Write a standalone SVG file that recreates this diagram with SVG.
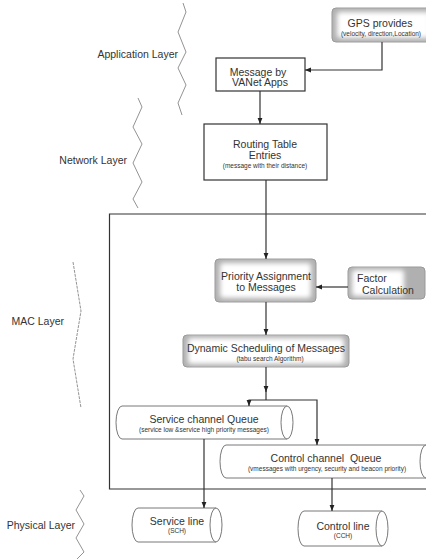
<svg xmlns="http://www.w3.org/2000/svg" width="426" height="559" viewBox="0 0 426 559">
<style>
text{font-family:"Liberation Sans",Arial,sans-serif;fill:#333}
.t{font-size:10.5px;text-anchor:middle}
.s{font-size:6.5px;text-anchor:middle}
.lay{font-size:10.5px;text-anchor:end}
.box{fill:#fff;stroke:#333;stroke-width:1.2}
.bev{fill:#b0b0b0;stroke:#999;stroke-width:1}
.in{fill:#fff;filter:url(#blur)}
.cyl{fill:#fff;stroke:#555;stroke-width:0.8}
.zz{fill:none;stroke:#777;stroke-width:0.8}
.ln{fill:none;stroke:#333;stroke-width:1.2}
</style>
<defs>
<filter id="blur" x="-20%" y="-40%" width="140%" height="180%"><feGaussianBlur stdDeviation="2.5"/></filter>
<marker id="ah" viewBox="0 0 10 10" refX="10" refY="5" markerWidth="6" markerHeight="6" orient="auto" markerUnits="userSpaceOnUse"><path d="M0,1 L10,5 L0,9 Z" fill="#222"/></marker>
</defs>

<g id="layers">
<polyline class="zz" points="183,3 186,12 178,32 186,52 178,68 186,85 178,103 182,115"/>
<text class="lay" x="178" y="58">Application Layer</text>
<polyline class="zz" points="138,98 142,107 133,127 142,144 133,163 142,182 133,199 138,208"/>
<text class="lay" x="127" y="164">Network Layer</text>
<polyline class="zz" points="73,262 81,311 73,359 81,408" stroke-dasharray="3,1"/>
<text class="lay" x="64" y="325">MAC Layer</text>
<polyline class="zz" points="80,490 84,496 76,510 84,524 76,538 84,552 77,559"/>
<text class="lay" x="75" y="529">Physical Layer</text>
</g>

<g id="mac-frame">
<path class="ln" d="M430,214 H109.5 V489 H430"/>
</g>

<g id="gps">
<rect class="bev" x="332" y="8" width="98" height="34" rx="4"/>
<rect class="in" x="337" y="12" width="93" height="26" rx="3"/>
<text class="t" x="380" y="27">GPS provides</text>
<text class="s" x="381" y="35.5">(velocity, direction,Location)</text>
</g>

<g id="message">
<rect class="box" x="216" y="58" width="89" height="33"/>
<text class="t" x="258" y="75.5">Message by</text>
<text class="t" x="260" y="86">VANet Apps</text>
</g>

<g id="routing">
<rect class="box" x="204" y="124" width="123" height="56"/>
<text class="t" x="265" y="148">Routing Table</text>
<text class="t" x="265" y="159">Entries</text>
<text class="s" x="265" y="167.5">(message with their distance)</text>
</g>

<g id="priority">
<rect class="bev" x="215" y="259" width="101" height="43" rx="4"/>
<rect class="in" x="220" y="263" width="91" height="35" rx="3"/>
<text class="t" x="266" y="280">Priority Assignment</text>
<text class="t" x="266" y="291">to Messages</text>
</g>

<g id="factor">
<rect class="bev" x="348" y="267" width="77" height="32" rx="4"/>
<rect class="in" x="352" y="270" width="52" height="26" rx="3"/>
<text x="357" y="281.5" font-size="10.5">Factor</text>
<text x="362" y="293.5" font-size="10.5">Calculation</text>
</g>

<g id="dynamic">
<rect class="bev" x="183" y="335" width="166" height="32" rx="4"/>
<rect class="in" x="188" y="338" width="156" height="26" rx="3"/>
<text class="t" x="266" y="352">Dynamic Scheduling of Messages</text>
<text class="s" x="270" y="360.5">(tabu search Algorithm)</text>
</g>

<g id="service-queue">
<path class="cyl" d="M122,406 H287 A6,16.5 0 0 1 287,439 H122 A6,16.5 0 0 1 122,406 Z"/>
<path class="cyl" d="M287,406 A6,16.5 0 0 0 287,439"/>
<text class="t" x="204" y="423">Service channel Queue</text>
<text class="s" x="204" y="432">(service low &amp;service high priority messages)</text>
</g>

<g id="control-queue">
<path class="cyl" d="M226,445 H426 A6,16.5 0 0 1 426,478 H226 A6,16.5 0 0 1 226,445 Z"/>
<path class="cyl" d="M426,445 A6,16.5 0 0 0 426,478"/>
<text class="t" x="326" y="462" xml:space="preserve">Control channel  Queue</text>
<text class="s" x="327" y="470.5">(vmessages with urgency, security and beacon priority)</text>
</g>

<g id="service-line">
<path class="cyl" d="M138,508 H216 A6,17 0 0 1 216,542 H138 A6,17 0 0 1 138,508 Z"/>
<path class="cyl" d="M216,508 A6,17 0 0 0 216,542"/>
<text class="t" x="177" y="525">Service line</text>
<text class="s" x="177" y="533">(SCH)</text>
</g>

<g id="control-line">
<path class="cyl" d="M304,511 H382 A6,17.5 0 0 1 382,546 H304 A6,17.5 0 0 1 304,511 Z"/>
<path class="cyl" d="M382,511 A6,17.5 0 0 0 382,546"/>
<text class="t" x="343" y="530">Control line</text>
<text class="s" x="343" y="538">(CCH)</text>
</g>

<g id="connectors">
<path class="ln" d="M382,42 V70 H305" marker-end="url(#ah)"/>
<path class="ln" d="M260,91 V124" marker-end="url(#ah)"/>
<path class="ln" d="M266,180 V259" marker-end="url(#ah)"/>
<path class="ln" d="M348,287 H316" marker-end="url(#ah)"/>
<path class="ln" d="M266,302 V335" marker-end="url(#ah)"/>
<path class="ln" d="M266,367 V392" marker-end="url(#ah)"/>
<path class="ln" d="M266,390 V400"/>
<path class="ln" d="M266,400 H249 V406" marker-end="url(#ah)"/>
<path class="ln" d="M266,400 H317 V445" marker-end="url(#ah)"/>
<path class="ln" d="M204,439 V508" marker-end="url(#ah)"/>
<path class="ln" d="M332,478 V511" marker-end="url(#ah)"/>
</g>
</svg>
